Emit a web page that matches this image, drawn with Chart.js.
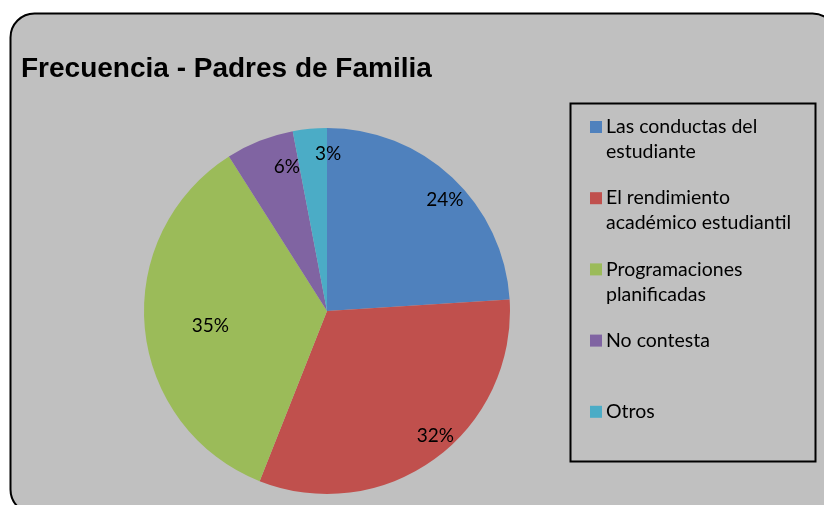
<!DOCTYPE html>
<html>
<head>
<meta charset="utf-8">
<script src="https://cdn.jsdelivr.net/npm/chart.js@4.4.1/dist/chart.umd.min.js"></script>
<style>
  html, body { margin: 0; padding: 0; background: #fff; }
  #wrap { width: 824px; height: 505px; }
</style>
</head>
<body>
<div id="wrap"><canvas id="grafico" width="824" height="505"></canvas></div>
<script>
// datos
const titulo = 'Frecuencia - Padres de Familia';
const categorias = [
  ['Las conductas del', 'estudiante'],
  ['El rendimiento', 'académico estudiantil'],
  ['Programaciones', 'planificadas'],
  ['No contesta'],
  ['Otros']
];
const porcentajes = [24, 32, 35, 6, 3];
const colores = ['#4F81BD', '#C0504D', '#9BBB59', '#8064A2', '#4BACC6'];

// ajuste de las etiquetas dentro de cada porcion (fraccion del radio, dx, dy)
const posEtiquetas = [
  { r: 0.885, dx: 7, dy: 7 },
  { r: 0.905, dx: 11, dy: -9 },
  { r: 0.64, dx: 0, dy: 4 },
  { r: 0.82, dx: 15, dy: -5 },
  { r: 0.86, dx: 16, dy: 0 }
];

const fondoMarco = {
  id: 'fondoMarco',
  beforeDraw(chart) {
    const ctx = chart.ctx;
    ctx.save();
    ctx.fillStyle = '#ffffff';
    ctx.fillRect(0, 0, chart.width, chart.height);
    ctx.beginPath();
    ctx.roundRect(10.5, 13.5, 826, 500, 24);
    ctx.fillStyle = '#c0c0c0';
    ctx.fill();
    ctx.lineWidth = 2;
    ctx.strokeStyle = '#000';
    ctx.stroke();
    // titulo
    ctx.fillStyle = '#000';
    ctx.font = 'bold 28px "Liberation Sans", Arial, sans-serif';
    ctx.textBaseline = 'alphabetic';
    ctx.fillText(titulo, 21, 77);
    ctx.restore();
  }
};

const etiquetas = {
  id: 'etiquetas',
  afterDatasetsDraw(chart) {
    const ctx = chart.ctx;
    const meta = chart.getDatasetMeta(0);
    const datos = chart.data.datasets[0].data;
    ctx.save();
    ctx.font = '19px Lato, "Open Sans", sans-serif';
    ctx.fillStyle = '#000';
    ctx.textAlign = 'center';
    ctx.textBaseline = 'middle';
    meta.data.forEach((arc, i) => {
      const p = arc.getProps(['x', 'y', 'startAngle', 'endAngle', 'outerRadius']);
      const medio = (p.startAngle + p.endAngle) / 2;
      const aj = posEtiquetas[i];
      const x = p.x + Math.cos(medio) * p.outerRadius * aj.r + aj.dx;
      const y = p.y + Math.sin(medio) * p.outerRadius * aj.r + aj.dy;
      ctx.fillText(datos[i] + '%', x, y);
    });
    ctx.restore();
  }
};

const leyenda = {
  id: 'leyenda',
  afterDraw(chart) {
    const ctx = chart.ctx;
    const ds = chart.data.datasets[0];
    ctx.save();
    ctx.lineWidth = 2;
    ctx.strokeStyle = '#000';
    ctx.strokeRect(570.5, 103.5, 245, 358);
    ctx.font = '19.5px Lato, "Open Sans", sans-serif';
    ctx.textBaseline = 'middle';
    chart.data.labels.forEach((lineas, i) => {
      const y = 127 + i * 71.2;
      ctx.fillStyle = ds.backgroundColor[i];
      ctx.fillRect(590, y - 6, 12, 12);
      ctx.fillStyle = '#000';
      lineas.forEach((t, j) => ctx.fillText(t, 606, y + j * 25));
    });
    ctx.restore();
  }
};

new Chart(document.getElementById('grafico'), {
  type: 'pie',
  data: {
    labels: categorias,
    datasets: [{
      data: porcentajes,
      backgroundColor: colores,
      borderWidth: 0,
      hoverOffset: 0,
      offset: 0
    }]
  },
  options: {
    responsive: false,
    animation: false,
    events: [],
    layout: { padding: { left: 144, right: 314, top: 128, bottom: 11 } },
    plugins: {
      legend: { display: false },
      title: { display: false },
      tooltip: { enabled: false }
    }
  },
  plugins: [fondoMarco, etiquetas, leyenda]
});
</script>
</body>
</html>
